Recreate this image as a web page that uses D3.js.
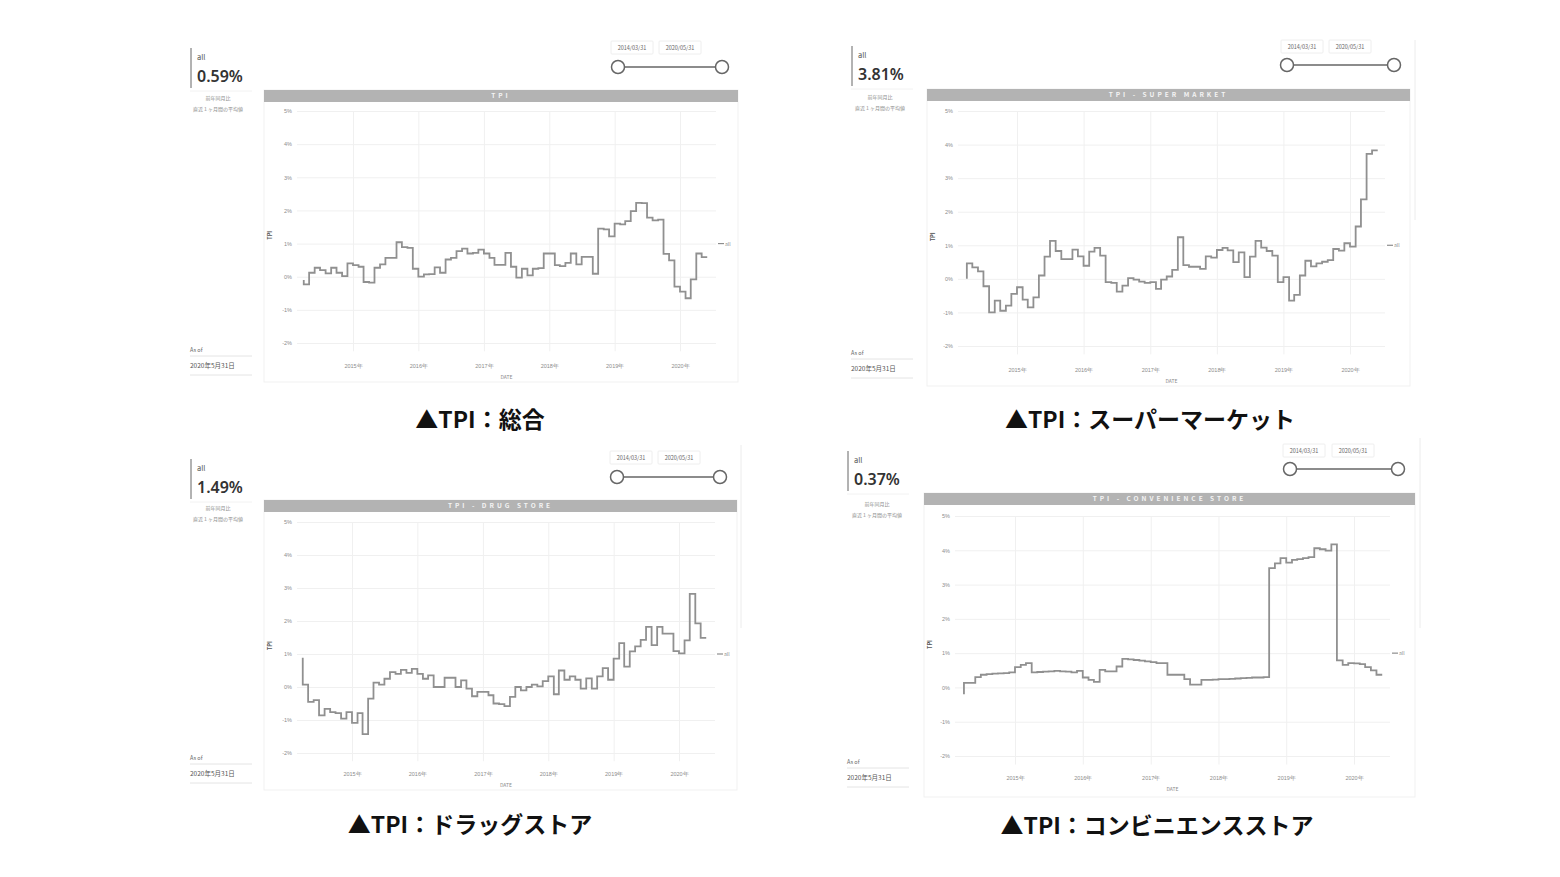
<!DOCTYPE html>
<html lang="ja">
<head>
<meta charset="UTF-8">
<title>TPI</title>
<style>
  body { margin: 0; background: #fff; }
  svg { display: block; font-family: "Noto Sans CJK JP", "Noto Sans", sans-serif; }
  .grid line { stroke: #f0f0f0; stroke-width: 1; }
  .grid text { fill: #8c8c8c; font-size: 5.5px; }
</style>
<script src="https://d3js.org/d3.v7.min.js"></script>
</head>
<body>
<svg id="chart" width="1560" height="877"></svg>
<script>
// monthly points, 2014/04 .. 2020/06 (75 points, step-before)
const months = d3.timeMonth.range(new Date(2014, 3, 1), new Date(2020, 5, 2));
const yTicks = [-2, -1, 0, 1, 2, 3, 4, 5];
const yearTicks = [2015, 2016, 2017, 2018, 2019, 2020];
const panelTitles = ["TPI", "TPI - SUPER MARKET", "TPI - DRUG STORE", "TPI - CONVENIENCE STORE"];
const captions = ["▲TPI：総合", "▲TPI：スーパーマーケット", "▲TPI：ドラッグストア", "▲TPI：コンビニエンスストア"];
const kpiValues = ["0.59%", "3.81%", "1.49%", "0.37%"];
const rangeLabels = ["2014/03/31", "2020/05/31"];
const subLabels = ["前年同月比", "直近１ヶ月間の平均値"];
const asOfLabel = "2020年5月31日";

const tpiTotal = [-0.1, -0.23, 0.12, 0.27, 0.2, 0.1, 0.27, 0.12, 0.02, 0.4,
  0.35, 0.3, -0.16, -0.18, 0.27, 0.37, 0.57, 0.57, 1.04, 0.89,
  0.87, 0.24, 0.0, 0.07, 0.08, 0.28, 0.12, 0.52, 0.57, 0.77,
  0.85, 0.7, 0.72, 0.82, 0.7, 0.57, 0.36, 0.36, 0.72, 0.3,
  -0.03, 0.24, 0.04, 0.24, 0.26, 0.7, 0.7, 0.35, 0.32, 0.42,
  0.7, 0.37, 0.6, 0.6, 0.09, 1.45, 1.43, 1.22, 1.6, 1.58,
  1.68, 1.98, 2.23, 2.22, 1.78, 1.7, 1.72, 0.69, 0.49, -0.3,
  -0.45, -0.65, -0.08, 0.7, 0.59];
const tpiSuper = [0.0, 0.46, 0.34, 0.22, -0.22, -1.0, -0.65, -0.95, -0.8, -0.45,
  -0.25, -0.62, -0.85, -0.55, 0.1, 0.66, 1.13, 0.83, 0.59, 0.59,
  0.87, 0.67, 0.39, 0.81, 0.92, 0.69, -0.1, -0.12, -0.38, -0.2,
  0.02, -0.02, -0.08, -0.12, -0.1, -0.3, -0.02, 0.07, 0.27, 1.24,
  0.41, 0.36, 0.36, 0.3, 0.67, 0.63, 0.86, 0.92, 0.85, 0.5,
  0.79, 0.05, 0.66, 1.13, 0.93, 0.83, 0.69, -0.1, 0.05, -0.65,
  -0.48, 0.1, 0.54, 0.37, 0.46, 0.51, 0.56, 0.89, 0.84, 1.06,
  0.96, 1.56, 2.37, 3.72, 3.83];
const tpiDrug = [0.89, 0.07, -0.45, -0.4, -0.86, -0.66, -0.76, -0.79, -0.96, -0.76,
  -1.09, -0.79, -1.43, -0.35, 0.13, 0.07, 0.25, 0.45, 0.4, 0.52,
  0.43, 0.55, 0.4, 0.25, 0.35, 0.0, 0.0, 0.28, 0.28, 0.0,
  0.2, -0.05, -0.28, -0.15, -0.15, -0.25, -0.5, -0.52, -0.58, -0.3,
  0.0, -0.1, 0.0, 0.07, 0.02, 0.18, 0.32, -0.22, 0.5, 0.22,
  0.32, 0.22, -0.05, 0.26, -0.05, 0.32, 0.57, 0.22, 0.86, 1.33,
  0.62, 1.08, 1.23, 1.43, 1.82, 1.27, 1.82, 1.62, 1.62, 1.09,
  1.02, 1.41, 2.82, 1.93, 1.49];
const tpiConv = [-0.2, 0.13, 0.13, 0.3, 0.37, 0.39, 0.4, 0.41, 0.42, 0.44,
  0.59, 0.66, 0.71, 0.44, 0.45, 0.46, 0.47, 0.48, 0.47, 0.46,
  0.44, 0.48, 0.29, 0.22, 0.16, 0.51, 0.47, 0.47, 0.61, 0.83,
  0.82, 0.8, 0.78, 0.76, 0.74, 0.71, 0.71, 0.37, 0.37, 0.37,
  0.24, 0.08, 0.08, 0.22, 0.22, 0.23, 0.24, 0.24, 0.25, 0.26,
  0.27, 0.28, 0.29, 0.29, 0.3, 3.48, 3.62, 3.77, 3.64, 3.72,
  3.74, 3.77, 3.8, 4.06, 4.03, 3.99, 4.17, 0.79, 0.66, 0.71,
  0.7, 0.68, 0.59, 0.5, 0.37];

const seriesList = [tpiTotal, tpiSuper, tpiDrug, tpiConv];

// layout of each dashboard tile
const layouts = [
  { kx: 191, ky: 48, frame: [264, 738, 90, 102, 382], grid: [297, 716], xYears: [353, 680], yRange: [343, 111],
    xLab: 368, dateY: 379, yTitleX: 272, sub: [218, 100], asOf: [190, 352], slider: [618, 722, 67, 49, 632, 680],
    cap: [480, 428], side: null },
  { kx: 852, ky: 46, frame: [927, 1410, 89, 101, 386], grid: [958, 1385], xYears: [1017, 1350], yRange: [346, 111],
    xLab: 372, dateY: 383, yTitleX: 935, sub: [880, 99], asOf: [851, 355], slider: [1287, 1394, 65, 48, 1302, 1350],
    cap: [1150, 428], side: [1415, 40, 220] },
  { kx: 191, ky: 459, frame: [264, 737, 500, 512, 790], grid: [297, 715], xYears: [352, 679], yRange: [753, 522],
    xLab: 776, dateY: 787, yTitleX: 272, sub: [218, 510], asOf: [190, 760], slider: [617, 720, 477, 459, 631, 679],
    cap: [470, 833], side: [741, 445, 628] },
  { kx: 848, ky: 451, frame: [924, 1415, 493, 505, 797], grid: [955, 1390], xYears: [1015, 1354], yRange: [756, 516],
    xLab: 780, dateY: 791, yTitleX: 932, sub: [877, 506], asOf: [847, 764], slider: [1290, 1398, 469, 452, 1304, 1353],
    cap: [1157, 834], side: [1420, 438, 628] }
];

const svg = d3.select("#chart");

layouts.forEach((p, k) => {
  const g = svg.append("g");
  const [fx0, fx1, fyBar, fyTop, fyBottom] = p.frame;

  // frame + header bar
  g.append("rect").attr("x", fx0).attr("y", fyBar).attr("width", fx1 - fx0).attr("height", fyBottom - fyBar)
    .attr("fill", "#fff").attr("stroke", "#f1f1f1");
  g.append("rect").attr("x", fx0).attr("y", fyBar).attr("width", fx1 - fx0).attr("height", fyTop - fyBar)
    .attr("fill", "#b3b3b3");
  g.append("text").attr("x", (fx0 + fx1) / 2).attr("y", (fyBar + fyTop) / 2 + 2.3)
    .attr("text-anchor", "middle").attr("fill", "#f4f4f4").attr("font-size", 6.5)
    .attr("letter-spacing", 3).attr("font-weight", 600).text(panelTitles[k]);

  if (p.side) {
    g.append("line").attr("x1", p.side[0]).attr("x2", p.side[0]).attr("y1", p.side[1]).attr("y2", p.side[2])
      .attr("stroke", "#ececec");
  }

  const x = d3.scaleTime().domain([new Date(2015, 0, 1), new Date(2020, 0, 1)]).range(p.xYears);
  const y = d3.scaleLinear().domain([-2, 5]).range(p.yRange);
  const gridBottom = y(-2.25);

  g.append("g").attr("class", "grid").attr("transform", `translate(${p.grid[0]},0)`)
    .call(d3.axisLeft(y).tickValues(yTicks).tickFormat(d => d + "%")
      .tickSize(-(p.grid[1] - p.grid[0])).tickPadding(5))
    .call(a => a.select(".domain").remove());

  g.append("g").attr("class", "grid").attr("transform", `translate(0,${gridBottom})`)
    .call(d3.axisBottom(x).tickValues(yearTicks.map(yr => new Date(yr, 0, 1)))
      .tickFormat(d => d.getFullYear() + "年")
      .tickSize(-(gridBottom - y(5))).tickPadding(p.xLab - gridBottom - 4))
    .call(a => a.select(".domain").remove());

  g.append("text").attr("x", (p.grid[0] + p.grid[1]) / 2).attr("y", p.dateY)
    .attr("text-anchor", "middle").attr("fill", "#8c8c8c").attr("font-size", 5).text("DATE");
  g.append("text").attr("transform", `translate(${p.yTitleX},${y(1.25)}) rotate(-90)`)
    .attr("text-anchor", "middle").attr("fill", "#555").attr("font-size", 5.5).attr("font-weight", 700).text("TPI");

  const line = d3.line()
    .x((d, i) => x(months[i]))
    .y(d => y(d))
    .curve(d3.curveStepBefore);
  g.append("path").datum(seriesList[k]).attr("d", line)
    .attr("fill", "none").attr("stroke", "#909090").attr("stroke-width", 1.8);

  // legend
  const ly = y(1);
  g.append("line").attr("x1", p.grid[1] + 2).attr("x2", p.grid[1] + 8).attr("y1", ly).attr("y2", ly)
    .attr("stroke", "#8d8d8d").attr("stroke-width", 1.2);
  g.append("text").attr("x", p.grid[1] + 9).attr("y", ly + 2).attr("fill", "#8c8c8c")
    .attr("font-size", 5).text("all");

  // KPI card
  g.append("line").attr("x1", p.kx).attr("x2", p.kx).attr("y1", p.ky).attr("y2", p.ky + 40)
    .attr("stroke", "#666").attr("stroke-width", 1);
  g.append("text").attr("x", p.kx + 6).attr("y", p.ky + 12).attr("fill", "#555").attr("font-size", 7.5).text("all");
  g.append("text").attr("x", p.kx + 6).attr("y", p.ky + 34).attr("fill", "#333").attr("font-size", 16)
    .attr("font-family", "'Noto Sans', sans-serif").attr("font-weight", 600).text(kpiValues[k]);
  g.append("line").attr("x1", p.kx - 1).attr("x2", p.kx + 61).attr("y1", p.ky + 43).attr("y2", p.ky + 43)
    .attr("stroke", "#f2f2f2");
  subLabels.forEach((s, j) => {
    g.append("text").attr("x", p.sub[0]).attr("y", p.sub[1] + j * 11).attr("text-anchor", "middle")
      .attr("fill", "#8c8c8c").attr("font-size", 5).text(s);
  });

  // as of
  g.append("text").attr("x", p.asOf[0]).attr("y", p.asOf[1]).attr("fill", "#666").attr("font-size", 5.5).text("As of");
  g.append("line").attr("x1", p.asOf[0]).attr("x2", p.asOf[0] + 62).attr("y1", p.asOf[1] + 4).attr("y2", p.asOf[1] + 4)
    .attr("stroke", "#e4e4e4");
  g.append("text").attr("x", p.asOf[0]).attr("y", p.asOf[1] + 16).attr("fill", "#555").attr("font-size", 6.5).text(asOfLabel);
  g.append("line").attr("x1", p.asOf[0]).attr("x2", p.asOf[0] + 62).attr("y1", p.asOf[1] + 23).attr("y2", p.asOf[1] + 23)
    .attr("stroke", "#e4e4e4");

  // date slider
  const [sx0, sx1, sy, ty, tx0, tx1] = p.slider;
  [tx0, tx1].forEach((tx, j) => {
    g.append("rect").attr("x", tx - 21).attr("y", ty - 8).attr("width", 42).attr("height", 13)
      .attr("fill", "#fff").attr("stroke", "#eeeeee").attr("rx", 1);
    g.append("text").attr("x", tx).attr("y", ty + 1).attr("text-anchor", "middle").attr("fill", "#666")
      .attr("font-size", 5.5).text(rangeLabels[j]);
  });
  g.append("line").attr("x1", sx0).attr("x2", sx1).attr("y1", sy).attr("y2", sy)
    .attr("stroke", "#666").attr("stroke-width", 1.6);
  [sx0, sx1].forEach(cx => {
    g.append("circle").attr("cx", cx).attr("cy", sy).attr("r", 6.5)
      .attr("fill", "#fff").attr("stroke", "#666").attr("stroke-width", 1.5);
  });

  // caption
  svg.append("text").attr("x", p.cap[0]).attr("y", p.cap[1]).attr("text-anchor", "middle")
    .attr("fill", "#111").attr("font-size", 23).attr("font-weight", 700).text(captions[k]);
});
</script>
</body>
</html>
